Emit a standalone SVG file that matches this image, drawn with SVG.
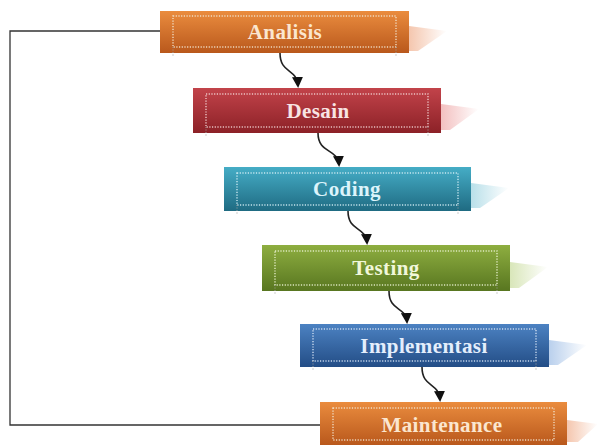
<svg xmlns="http://www.w3.org/2000/svg" width="598" height="446" viewBox="0 0 598 446">
<defs>
<linearGradient id="gOr" x1="0" y1="0" x2="0" y2="1"><stop offset="0" stop-color="#ea8c3e"/><stop offset="1" stop-color="#b9581c"/></linearGradient>
<linearGradient id="gRd" x1="0" y1="0" x2="0" y2="1"><stop offset="0" stop-color="#c2434a"/><stop offset="1" stop-color="#8c2127"/></linearGradient>
<linearGradient id="gTl" x1="0" y1="0" x2="0" y2="1"><stop offset="0" stop-color="#45adc6"/><stop offset="1" stop-color="#1f6b82"/></linearGradient>
<linearGradient id="gGr" x1="0" y1="0" x2="0" y2="1"><stop offset="0" stop-color="#8eae40"/><stop offset="1" stop-color="#587620"/></linearGradient>
<linearGradient id="gBl" x1="0" y1="0" x2="0" y2="1"><stop offset="0" stop-color="#4c82c2"/><stop offset="1" stop-color="#234d86"/></linearGradient>
<linearGradient id="shOr" x1="0" y1="0" x2="1" y2="0"><stop offset="0" stop-color="#f2b89a" stop-opacity="0.8"/><stop offset="1" stop-color="#f2b89a" stop-opacity="0"/></linearGradient>
<linearGradient id="shRd" x1="0" y1="0" x2="1" y2="0"><stop offset="0" stop-color="#f0b0b0" stop-opacity="0.8"/><stop offset="1" stop-color="#f0b0b0" stop-opacity="0"/></linearGradient>
<linearGradient id="shTl" x1="0" y1="0" x2="1" y2="0"><stop offset="0" stop-color="#a8d8e4" stop-opacity="0.8"/><stop offset="1" stop-color="#a8d8e4" stop-opacity="0"/></linearGradient>
<linearGradient id="shGr" x1="0" y1="0" x2="1" y2="0"><stop offset="0" stop-color="#cfe0a8" stop-opacity="0.8"/><stop offset="1" stop-color="#cfe0a8" stop-opacity="0"/></linearGradient>
<linearGradient id="shBl" x1="0" y1="0" x2="1" y2="0"><stop offset="0" stop-color="#a8c4e8" stop-opacity="0.8"/><stop offset="1" stop-color="#a8c4e8" stop-opacity="0"/></linearGradient>
<marker id="arr" markerWidth="11" markerHeight="11" refX="9" refY="5.5" orient="auto" markerUnits="userSpaceOnUse"><path d="M0,0 L11,5.5 L0,11 Z" fill="#111"/></marker>
<style>
.inner{fill:none;stroke:#f3e6d0;stroke-width:1.4;stroke-dasharray:1.2 1.5;opacity:0.9}
.tick{stroke:#9a9a9a;stroke-width:1;stroke-dasharray:1 1.5}
.lbl{font-family:"Liberation Serif","Times New Roman",serif;font-weight:bold;font-size:21px;letter-spacing:0.4px;text-anchor:middle}
.con{fill:none;stroke:#222;stroke-width:1.6}
.loop{fill:none;stroke:#333;stroke-width:1.3}
</style>
</defs>

<g id="connectors">
<path class="loop" d="M160,31 H10 V425 H320"/>
<path class="con" d="M280,53 C280,74 297,68 298,86" marker-end="url(#arr)"/>
<path class="con" d="M318,133 C318,154 338,148 339,165" marker-end="url(#arr)"/>
<path class="con" d="M348,211 C348,232 366,226 367,243" marker-end="url(#arr)"/>
<path class="con" d="M389,291 C389,312 406,306 407,322" marker-end="url(#arr)"/>
<path class="con" d="M422,367 C422,388 439,382 440,400" marker-end="url(#arr)"/>
</g>

<g id="analisis">
<polygon points="409,26 447,31 418,51 409,51" fill="url(#shOr)"/>
<rect x="160" y="11" width="249" height="42" fill="url(#gOr)"/>
<rect class="inner" x="173" y="16" width="223" height="31"/>
<line class="tick" x1="173" y1="47" x2="173" y2="57"/><line class="tick" x1="396" y1="47" x2="396" y2="57"/>
<text class="lbl" x="285" y="39" fill="#fbe6cf">Analisis</text>
</g>

<g id="desain">
<polygon points="441,104 479,109 450,130 441,130" fill="url(#shRd)"/>
<rect x="193" y="88" width="248" height="45" fill="url(#gRd)"/>
<rect class="inner" x="206" y="94" width="222" height="33" style="stroke:#f2d4d4"/>
<line class="tick" x1="206" y1="127" x2="206" y2="137"/><line class="tick" x1="428" y1="127" x2="428" y2="137"/>
<text class="lbl" x="318" y="118" fill="#f8e4e4">Desain</text>
</g>

<g id="coding">
<polygon points="471,183 509,188 480,208 471,208" fill="url(#shTl)"/>
<rect x="224" y="167" width="247" height="44" fill="url(#gTl)"/>
<rect class="inner" x="237" y="173" width="221" height="32" style="stroke:#d6f0f6"/>
<line class="tick" x1="237" y1="205" x2="237" y2="215"/><line class="tick" x1="458" y1="205" x2="458" y2="215"/>
<text class="lbl" x="347" y="196" fill="#dcf4fb">Coding</text>
</g>

<g id="testing">
<polygon points="510,262 548,267 519,288 510,288" fill="url(#shGr)"/>
<rect x="262" y="245" width="248" height="46" fill="url(#gGr)"/>
<rect class="inner" x="275" y="251" width="222" height="34" style="stroke:#eaf2d2"/>
<line class="tick" x1="275" y1="285" x2="275" y2="295"/><line class="tick" x1="497" y1="285" x2="497" y2="295"/>
<text class="lbl" x="386" y="275" fill="#f1f7da">Testing</text>
</g>

<g id="implementasi">
<polygon points="549,340 587,345 558,365 549,365" fill="url(#shBl)"/>
<rect x="300" y="324" width="249" height="43" fill="url(#gBl)"/>
<rect class="inner" x="313" y="329" width="223" height="32" style="stroke:#d8e6f6"/>
<line class="tick" x1="313" y1="361" x2="313" y2="371"/><line class="tick" x1="536" y1="361" x2="536" y2="371"/>
<text class="lbl" x="424" y="353" fill="#e4eefc">Implementasi</text>
</g>

<g id="maintenance">
<polygon points="567,420 598,424 578,442 567,442" fill="url(#shOr)"/>
<rect x="320" y="402" width="247" height="43" fill="url(#gOr)"/>
<rect class="inner" x="333" y="408" width="221" height="32"/>
<text class="lbl" x="442" y="432" fill="#fbe6cf">Maintenance</text>
</g>
</svg>
